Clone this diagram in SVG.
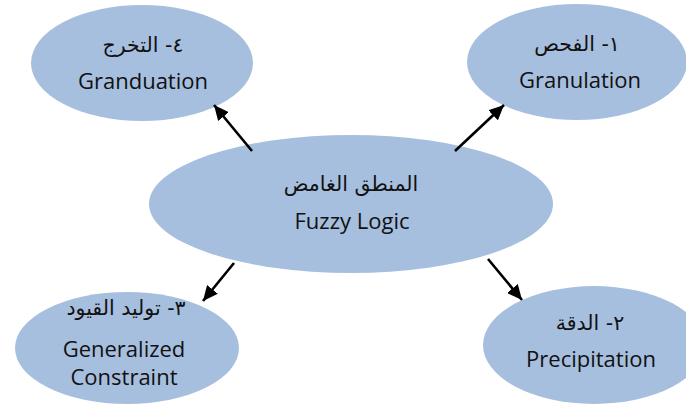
<svg xmlns="http://www.w3.org/2000/svg" width="686" height="407" viewBox="0 0 686 407">
<defs>
<style>
.node ellipse{fill:#A7BFDE;}
.en{font-family:"Open Sans","Noto Sans","Liberation Sans",sans-serif;font-size:22px;fill:#111;text-anchor:middle;}
.ar{font-family:"DejaVu Sans","Noto Sans",sans-serif;font-size:20.5px;fill:#111;text-anchor:middle;direction:rtl;unicode-bidi:embed;}
.conn line{stroke:#000;stroke-width:2.6;marker-end:url(#ah);}
</style>
<marker id="ah" markerUnits="userSpaceOnUse" markerWidth="16" markerHeight="14" refX="15" refY="7" orient="auto">
<path d="M0,0 L15,7 L0,14 Z" fill="#000"/>
</marker>
</defs>
<rect width="686" height="407" fill="#fff"/>
<g id="n4" class="node">
<ellipse cx="142" cy="63" rx="111" ry="58"/>
<text class="ar" x="143" y="52" direction="rtl">٤- التخرج</text>
<text class="en" x="143" y="89">Granduation</text>
</g>
<g id="n1" class="node">
<ellipse cx="577" cy="62" rx="110" ry="58"/>
<text class="ar" x="577" y="51" direction="rtl">١- الفحص</text>
<text class="en" x="580" y="88">Granulation</text>
</g>
<g id="center" class="node">
<ellipse cx="351" cy="204" rx="202" ry="69"/>
<text class="ar" x="351" y="191" direction="rtl">المنطق الغامض</text>
<text class="en" x="352" y="229">Fuzzy Logic</text>
</g>
<g id="n3" class="node">
<ellipse cx="127" cy="348" rx="112" ry="56"/>
<text class="ar" x="126" y="315" direction="rtl">٣- توليد القيود</text>
<text class="en" x="124" y="357">Generalized</text>
<text class="en" x="124" y="385">Constraint</text>
</g>
<g id="n2" class="node">
<ellipse cx="594" cy="345" rx="111" ry="59"/>
<text class="ar" x="590" y="330" direction="rtl">٢- الدقة</text>
<text class="en" x="591" y="367">Precipitation</text>
</g>
<g id="connectors" class="conn">
<line x1="252" y1="151" x2="214" y2="105"/>
<line x1="455" y1="151" x2="504" y2="105"/>
<line x1="234" y1="263" x2="203" y2="301"/>
<line x1="488" y1="259" x2="522" y2="300"/>
</g>
</svg>
